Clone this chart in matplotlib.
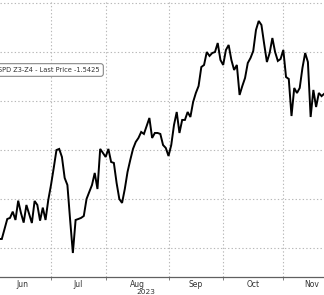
import numpy as np
import pandas as pd
import matplotlib
matplotlib.use("Agg")
import matplotlib.pyplot as plt

# ---- data -----------------------------------------------------------------
holidays = ["2023-06-19", "2023-07-04", "2023-09-04", "2023-11-23"]
calendar = pd.bdate_range("2023-06-01", "2023-12-01", freq="C", holidays=holidays)
start_date = "2023-06-05"

values = [
    -1.6908, -1.6908, -1.6806, -1.6704, -1.6693, -1.6629, -1.6714, -1.6517,
    -1.6642, -1.6741, -1.6561, -1.6653, -1.6745, -1.6520, -1.6561, -1.6721,
    -1.6588, -1.6714, -1.6510,
    -1.6357, -1.6183, -1.6000, -1.5989, -1.6071, -1.6285, -1.6357, -1.6714,
    -1.7051, -1.6714, -1.6704, -1.6693, -1.6673, -1.6500, -1.6428, -1.6357,
    -1.6234, -1.6398, -1.5989, -1.6030,
    -1.6071, -1.5989, -1.6122, -1.6132, -1.6336, -1.6500, -1.6540, -1.6398,
    -1.6224, -1.6102, -1.5989, -1.5918, -1.5877, -1.5816, -1.5836, -1.5755,
    -1.5673, -1.5877, -1.5826, -1.5826, -1.5836, -1.5949, -1.5979,
    -1.6061, -1.5949, -1.5745, -1.5612, -1.5826, -1.5693, -1.5693, -1.5612,
    -1.5663, -1.5510, -1.5418, -1.5347, -1.5153, -1.5132, -1.5000, -1.5040,
    -1.5010, -1.5000, -1.4908, -1.5081,
    -1.5132, -1.4979, -1.4928, -1.5081, -1.5183, -1.5132, -1.5438, -1.5347,
    -1.5265, -1.5112, -1.5061, -1.4989, -1.4775, -1.4683, -1.4724, -1.4918,
    -1.5102, -1.5010, -1.4857, -1.5000, -1.5091, -1.5071,
    -1.4979, -1.5255, -1.5275, -1.5653, -1.5367, -1.5418, -1.5367, -1.5163,
    -1.5010, -1.5102, -1.5663, -1.5387, -1.5561, -1.5418, -1.5450, -1.5425,
]
month_labels = ["Jun", "Jul", "Aug", "Sep", "Oct", "Nov"]
y_grid = [-1.45, -1.50, -1.55, -1.60, -1.65, -1.70]
legend_label = "SPD Z3-Z4 - Last Price -1.5425"
year_label = "2023"

# ---- positions on trading-day axis ----------------------------------------
first = calendar.get_loc(pd.Timestamp(start_date))
xs = np.arange(first, first + len(values))

month_starts = []
for m in range(6, 13):
    idx = np.where(calendar.month == m)[0]
    month_starts.append(idx[0])
month_starts = np.array(month_starts, dtype=float)
centers = (month_starts[:-1] + month_starts[1:]) / 2.0

# ---- figure ---------------------------------------------------------------
fig = plt.figure(figsize=(3.24, 2.95), dpi=100)
ax = fig.add_axes([0, 18 / 295, 1, 277 / 295])

ax.plot(xs, values, color="black", lw=1.4, solid_joinstyle="miter", zorder=3)

# scales (pixel-based crop of the original chart)
ax.set_xlim(month_starts[1] - 51 / 2.733, month_starts[1] + (324 - 51) / 2.733)
ax.set_ylim(-1.7296, -1.4469)

for yv in y_grid:
    ax.axhline(yv, color="#b8b8b8", lw=0.8, ls=(0, (1.2, 2.0)), zorder=1)
for xv in month_starts[1:-1]:
    ax.axvline(xv, color="#b8b8b8", lw=0.8, ls=(0, (1.2, 2.0)), zorder=1)

for s in ["top", "right", "left"]:
    ax.spines[s].set_visible(False)
ax.spines["bottom"].set_color("#606060")
ax.spines["bottom"].set_linewidth(0.9)

ax.set_yticks([])
ax.set_xticks(centers)
ax.set_xticklabels(month_labels, fontsize=5.5, color="#333333")
ax.tick_params(axis="x", which="major", length=0, pad=2.0)
ax.set_xticks(month_starts[1:-1], minor=True)
ax.tick_params(axis="x", which="minor", length=2.5, width=0.7, color="#808080")

fig.text(146 / 324, 1 - 292 / 295, year_label, fontsize=5.3, color="#333333",
         ha="center", va="center")

fig.text(100 / 324, 1 - 70 / 295, legend_label, fontsize=4.8, color="#333333",
         ha="right", va="center",
         bbox=dict(boxstyle="round,pad=0.5,rounding_size=0.4", fc="white",
                   ec="#888888", lw=0.8))

fig.savefig("out.png", dpi=100, facecolor="white")
